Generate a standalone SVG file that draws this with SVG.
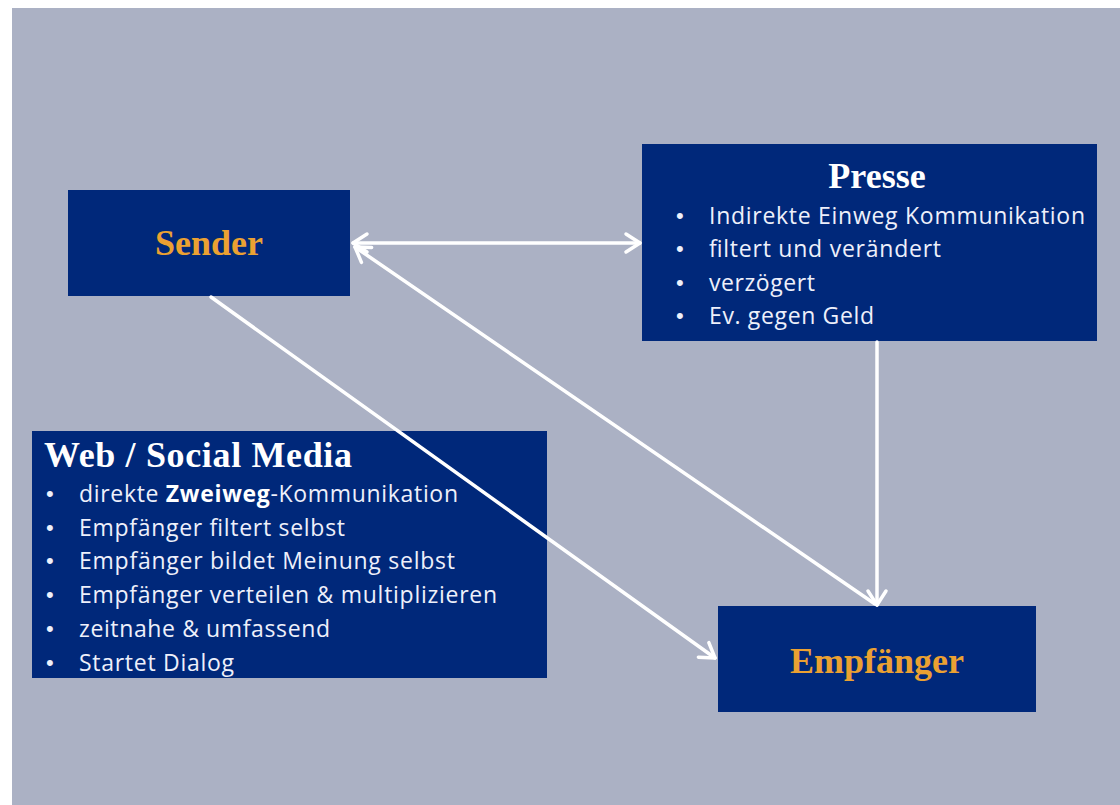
<svg xmlns="http://www.w3.org/2000/svg" width="1120" height="805" viewBox="0 0 1120 805">
<defs>
<style>
.box{fill:#00287a;}
.title{font-family:"Liberation Serif","Times New Roman",serif;font-weight:bold;font-size:36px;}
.orange{fill:#eba132;}
.white{fill:#ffffff;}
.body{font-family:"Open Sans","Liberation Sans",sans-serif;font-size:23px;fill:#eef0fb;}
.bul{font-family:"Liberation Sans",sans-serif;font-size:22px;fill:#eef0fb;}
.conn{stroke:#ffffff;stroke-width:3.5;fill:none;stroke-linecap:round;}
</style>
<marker id="arr" markerUnits="userSpaceOnUse" viewBox="-20 -12 24 24" markerWidth="24" markerHeight="24" refX="0" refY="0" orient="auto-start-reverse">
<path d="M-14,-9 L0,0 L-14,9" fill="none" stroke="#ffffff" stroke-width="3.5" stroke-linecap="round" stroke-linejoin="round"/>
</marker>
</defs>
<rect x="0" y="0" width="1120" height="805" fill="#ffffff"/>
<rect x="12" y="8" width="1108" height="797" fill="#abb1c4"/>

<g id="sender">
<rect class="box" x="68" y="190" width="282" height="106"/>
<text class="title orange" x="209" y="255" text-anchor="middle">Sender</text>
</g>

<g id="presse">
<rect class="box" x="642" y="144" width="455" height="197"/>
<text class="title white" x="877" y="188" text-anchor="middle">Presse</text>
<text class="bul" x="676" y="223">•</text><text class="body" x="709" y="224" textLength="376">Indirekte Einweg Kommunikation</text>
<text class="bul" x="676" y="256">•</text><text class="body" x="709" y="257" textLength="232">filtert und verändert</text>
<text class="bul" x="676" y="290">•</text><text class="body" x="709" y="291" textLength="106">verzögert</text>
<text class="bul" x="676" y="323">•</text><text class="body" x="709" y="324" textLength="165">Ev. gegen Geld</text>
</g>

<g id="web">
<rect class="box" x="32" y="431" width="515" height="247"/>
<text class="title white" x="44" y="467" textLength="308">Web / Social Media</text>
<text class="bul" x="46" y="501">•</text><text class="body" x="79" y="502" textLength="379">direkte <tspan font-weight="bold" fill="#ffffff">Zweiweg</tspan>-Kommunikation</text>
<text class="bul" x="46" y="535">•</text><text class="body" x="79" y="536" textLength="266">Empfänger filtert selbst</text>
<text class="bul" x="46" y="568">•</text><text class="body" x="79" y="569" textLength="376">Empfänger bildet Meinung selbst</text>
<text class="bul" x="46" y="602">•</text><text class="body" x="79" y="603" textLength="418">Empfänger verteilen &amp; multiplizieren</text>
<text class="bul" x="46" y="636">•</text><text class="body" x="79" y="637" textLength="251">zeitnahe &amp; umfassend</text>
<text class="bul" x="46" y="670">•</text><text class="body" x="79" y="671" textLength="155">Startet Dialog</text>
</g>

<g id="empfaenger">
<rect class="box" x="718" y="606" width="318" height="106"/>
<text class="title orange" x="877" y="673" text-anchor="middle">Empfänger</text>
</g>

<g id="connectors">
<line class="conn" x1="353" y1="243" x2="640" y2="243" marker-start="url(#arr)" marker-end="url(#arr)"/>
<line class="conn" x1="877" y1="342" x2="877" y2="605" marker-end="url(#arr)"/>
<line class="conn" x1="875" y1="604" x2="355" y2="247" marker-end="url(#arr)"/>
<line class="conn" x1="211" y1="297" x2="715" y2="658" marker-end="url(#arr)"/>
</g>
</svg>
